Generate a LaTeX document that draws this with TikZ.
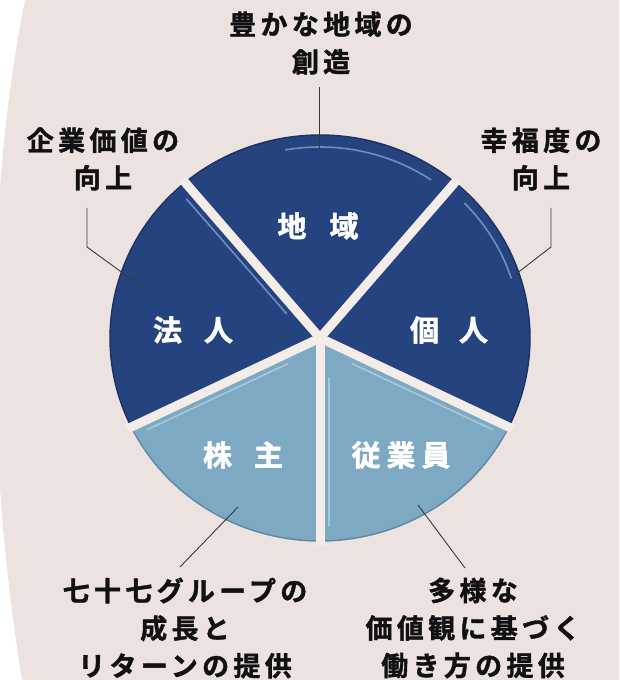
\documentclass[tikz,border=0pt]{standalone}
\usepackage{fontspec}
\newfontfamily\jpin{Noto Sans CJK JP Bold}[FakeBold=1.8]
\newfontfamily\jpout{Noto Sans CJK JP Bold}[LetterSpace=16,FakeBold=1.4]
\usetikzlibrary{calc}
\definecolor{bgc}{HTML}{ECE2DF}
\definecolor{gapc}{HTML}{F3ECE9}
\definecolor{darkc}{HTML}{25437F}
\definecolor{darkrim}{HTML}{1B3265}
\definecolor{darkhl}{HTML}{6F8DC4}
\definecolor{lightc}{HTML}{7EA9C2}
\definecolor{lightrim}{HTML}{5E88A3}
\definecolor{lighthl}{HTML}{A8C8DA}
\definecolor{txt}{HTML}{111111}
\definecolor{linec}{HTML}{3A3A3A}
\begin{document}
\begin{tikzpicture}[x=1pt,y=1pt,
  outlbl/.style={font=\jpout\fontsize{27}{37.5}\selectfont, align=center, text=txt, inner sep=0pt},
  inlbl/.style={font=\jpin\fontsize{29}{30}\selectfont, text=white, inner sep=0pt},
  conn/.style={draw=linec, line width=0.9pt},
  gapline/.style={draw=gapc, line width=9pt, line cap=butt},
  hlline/.style={line width=1.6pt, line cap=round},
]
\useasboundingbox (0,0) rectangle (619,680);
% background
\fill[white] (0,0) rectangle (619,680);
\fill[bgc] (25,680) .. controls (-15,480) and (-15,230) .. (22,0) -- (619,0) -- (619,680) -- cycle;

\coordinate (C) at (320,342);
% slices
\filldraw[fill=darkc, draw=darkrim, line width=1.4pt] (C) -- ($(C)+(50:210pt and 203pt)$) arc[start angle=50, end angle=130, x radius=210pt, y radius=203pt] -- cycle;
\filldraw[fill=darkc, draw=darkrim, line width=1.4pt] (C) -- ($(C)+(130:210pt and 203pt)$) arc[start angle=130, end angle=206, x radius=210pt, y radius=203pt] -- cycle;
\filldraw[fill=lightc, draw=lightrim, line width=1.4pt] (C) -- ($(C)+(206:210pt and 203pt)$) arc[start angle=206, end angle=270, x radius=210pt, y radius=203pt] -- cycle;
\filldraw[fill=lightc, draw=lightrim, line width=1.4pt] (C) -- ($(C)+(270:210pt and 203pt)$) arc[start angle=270, end angle=334, x radius=210pt, y radius=203pt] -- cycle;
\filldraw[fill=darkc, draw=darkrim, line width=1.4pt] (C) -- ($(C)+(334:210pt and 203pt)$) arc[start angle=334, end angle=410, x radius=210pt, y radius=203pt] -- cycle;

% highlights
\draw[hlline, darkhl] ($(C)+(100:198pt and 191pt)$) arc[start angle=100, end angle=56, x radius=198pt, y radius=191pt];
\draw[hlline, darkhl] ($(C)+(44:201pt and 194pt)$) arc[start angle=44, end angle=18, x radius=201pt, y radius=194pt];
\draw[hlline, darkhl] ($(C)+(130:40pt)+(220:10pt)$) -- ($(C)+(130:196pt and 190pt)+(220:10pt)$);
\draw[hlline, lighthl] ($(C)+(206:40pt)+(296:9pt)$) -- ($(C)+(206:197pt and 191pt)+(296:9pt)$);
\draw[hlline, lighthl] ($(C)+(270:40pt)+(0:9pt)$) -- ($(C)+(270:192pt and 188pt)+(0:9pt)$);
\draw[hlline, lighthl] ($(C)+(334:40pt)+(244:9pt)$) -- ($(C)+(334:197pt and 191pt)+(244:9pt)$);

% gaps between slices
\foreach \a in {50,130,206,270,334}
  \draw[gapline] (C) -- ($(C)+(\a:214pt and 207pt)$);

% inner labels
\node[inlbl] (chiiki) at (318,454) {地\hspace{23pt}域};
\node[inlbl] (hojin) at (193,350) {法\hspace{22pt}人};
\node[inlbl] (kojin) at (449,350) {個\hspace{20pt}人};
\node[inlbl] (kabunushi) at (243,225) {株\hspace{22pt}主};
\node[inlbl] (jugyoin) at (401,225) {従\hspace{6pt}業\hspace{6pt}員};

% outer labels
\node[outlbl] (ltop) at (103,521) {企業価値の\\向上};
\node[outlbl] (rtop) at (541,521) {幸福度の\\向上};
\node[outlbl] (ttop) at (321,637) {豊かな地域の\\創造};
\node[outlbl] (lbot) at (185,52) {七十七グループの\\成長と\\リターンの提供};
\node[outlbl] (rbot) at (473,52) {多様な\\価値観に基づく\\働き方の提供};

% connector points
\coordinate (t1) at (319,593);
\coordinate (t2) at (319,530);
\coordinate (l1) at (87,472);
\coordinate (l2) at (87,433);
\coordinate (l3) at (142,393);
\coordinate (r1) at (551,472);
\coordinate (r2) at (551,433);
\coordinate (r3) at (516,406);
\coordinate (b1) at (238,173);
\coordinate (b2) at (180,113);
\coordinate (c1) at (418,175);
\coordinate (c2) at (465,112);

\draw[conn] (t1) -- (t2);
\draw[conn] (l1) -- (l2) -- (l3);
\draw[conn] (r1) -- (r2) -- (r3);
\draw[conn] (b1) -- (b2);
\draw[conn] (c1) -- (c2);
\end{tikzpicture}
\end{document}
